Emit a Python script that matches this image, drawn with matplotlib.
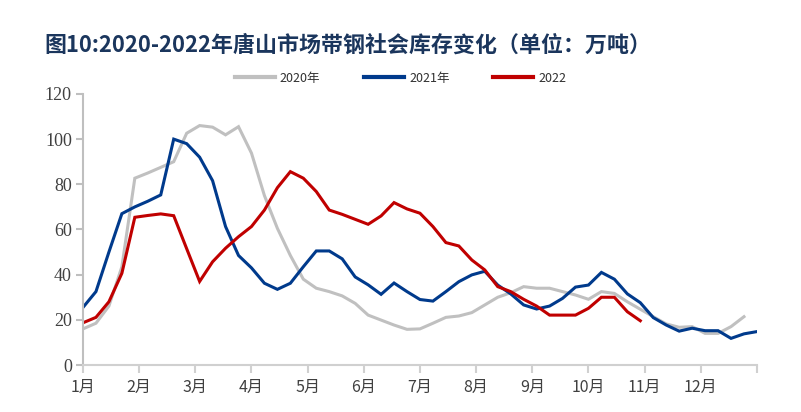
import numpy as np
import matplotlib.pyplot as plt

plt.rcParams['font.family'] = ['Noto Sans CJK SC', 'DejaVu Sans']

# weekly inventory, 10k tons
s2020 = [16, 18.5, 26.1, 43.5, 82.7, 85, 87.5, 90, 102.6, 106, 105.3, 101.9, 105.5,
         93.8, 75, 60.5, 48.5, 38, 34, 32.5, 30.6, 27.3, 22.1, 19.9, 17.7, 15.8, 16,
         18.5, 21.1, 21.7, 23.2, 26.6, 30, 32, 34.7, 34, 34, 32.5, 31, 29.1, 32.5,
         31.7, 28, 24.7, 21.4, 18.2, 16.7, 17, 14, 14, 17, 21.4]
s2021 = [25.5, 32.5, 50, 67, 70, 72.5, 75.3, 100, 98, 92, 81.6, 61.3, 48.5, 43,
         36.2, 33.5, 36.2, 43.5, 50.5, 50.5, 47, 39, 35.5, 31.3, 36.3, 32.5, 29,
         28.3, 32.5, 36.9, 39.9, 41.5, 35.4, 31.5, 26.6, 24.8, 26.1, 29.5, 34.5,
         35.4, 41, 38, 31.5, 27.6, 21, 17.7, 15, 16.3, 15.2, 15.2, 11.8, 13.8, 14.8]
s2022 = [18.7, 21.1, 28, 40.6, 65.4, 66.2, 66.9, 66.1, 51.5, 37, 45.7, 51.7, 56.8,
         61.3, 68.6, 78.5, 85.6, 82.7, 76.8, 68.6, 66.7, 64.5, 62.3, 66, 71.9, 69.1,
         67.2, 61.3, 54.2, 52.7, 46.5, 42.1, 34.7, 32.5, 29.1, 26.1, 22.1, 22.1, 22.1,
         25.1, 30, 30, 23.6, 19.6]
names = ['2020年', '2021年', '2022']
colors = ['#C0C0C0', '#003A8C', '#C00000']
months = [str(m) + '月' for m in range(1, 13)]
yticks = [0, 20, 40, 60, 80, 100, 120]

fig = plt.figure(figsize=(8.01, 4.12), dpi=100)
ax = fig.add_axes([0.1036, 0.114, 0.8414, 0.658])

for s, n, c in zip([s2020, s2021, s2022], names, colors):
    ax.plot(np.arange(len(s)), s, color=c, lw=2.2, label=n, solid_joinstyle='miter')

ax.set_xlim(0, 52)
ax.set_ylim(0, 120)
mt = np.arange(13) * 52 / 12
ax.set_xticks(mt)
ax.set_xticklabels(months + [''])
ax.set_yticks(yticks)
ax.set_yticklabels([str(v) for v in yticks])

for sp in ['top', 'right']:
    ax.spines[sp].set_visible(False)
ax.spines['left'].set_color('#BFBFBF')
ax.spines['bottom'].set_color('#D0D0D0')
ax.spines['left'].set_linewidth(1.5)
ax.spines['bottom'].set_linewidth(1.5)
ax.tick_params(axis='y', colors='#BFBFBF', length=5, width=1.5, labelcolor='#404040', pad=3)
ax.tick_params(axis='x', colors='#D0D0D0', length=6, width=1.5, labelcolor='#404040',
               labelsize=11.5, pad=4)
for t in ax.get_yticklabels():
    t.set_fontfamily(['Liberation Serif'])
    t.set_fontsize(13)

fig.text(0.055, 0.89, '图10:2020-2022年唐山市场带钢社会库存变化（单位：万吨）',
         fontsize=15.8, fontweight='bold', color='#1B365D', va='center')

fig.legend(loc='center', bbox_to_anchor=(0.5, 0.81), ncol=3, frameon=False,
           fontsize=9, handlelength=3.2, columnspacing=3.5, handletextpad=0.4,
           labelcolor='#303030')
leg_lines = fig.legends[0].get_lines()
for l in leg_lines:
    l.set_linewidth(3)

fig.savefig('out.png', dpi=100)
